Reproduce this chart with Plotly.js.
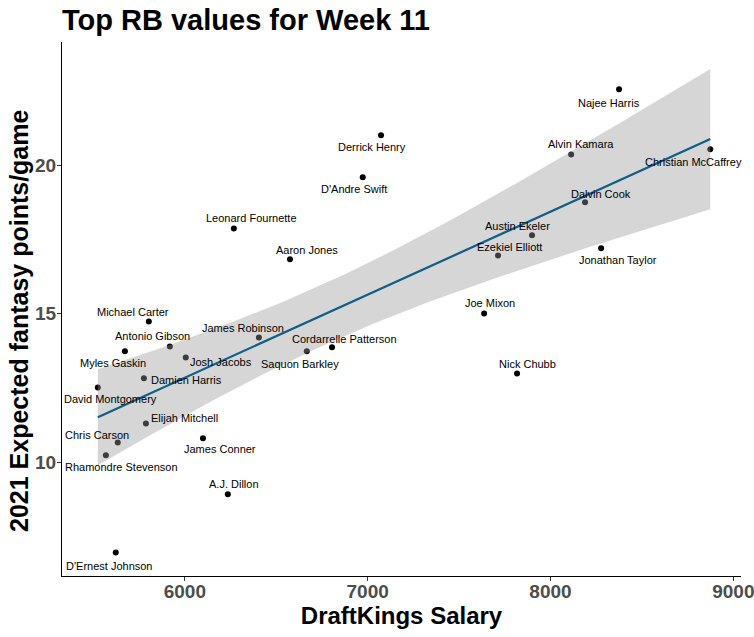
<!DOCTYPE html>
<html>
<head>
<meta charset="utf-8">
<script src="https://cdn.plot.ly/plotly-3.0.1.min.js"></script>
<style>html,body{margin:0;padding:0;background:#fff;}#chart{width:754px;height:637px;}</style>
</head>
<body>
<div id="chart"></div>
<script>
// ---- data ----
const players = ["Najee Harris","Derrick Henry","Alvin Kamara","Christian McCaffrey","D'Andre Swift","Dalvin Cook","Leonard Fournette","Austin Ekeler","Ezekiel Elliott","Aaron Jones","Jonathan Taylor","Joe Mixon","Michael Carter","James Robinson","Antonio Gibson","Cordarrelle Patterson","Myles Gaskin","Josh Jacobs","Saquon Barkley","Nick Chubb","Damien Harris","David Montgomery","Elijah Mitchell","Chris Carson","James Conner","Rhamondre Stevenson","A.J. Dillon","D'Ernest Johnson"];
const salary = [8375,7073,8113,8874,6973,8189,6268,7899,7713,6575,8277,7637,5803,6405,5918,6805,5672,6005,6667,7817,5776,5524,5787,5633,6099,5568,6235,5622];
const expPoints = [22.55,21.00,20.36,20.53,19.59,18.75,17.87,17.64,16.96,16.83,17.20,15.01,14.74,14.20,13.90,13.87,13.74,13.53,13.74,12.99,12.83,12.52,11.31,10.67,10.81,10.24,8.93,6.97];
const xTicks = [6000,7000,8000,9000];
const yTicks = [10,15,20];

// label placement (pixel offsets from each point; style, not data)
const labelDx = [-10,-9,10,-17,-9,16,18,-15,11,17,17,6,-16,-16,-17,12,-12,35,-7,10,43,13,39,-21,17,16,6,-7];
const labelDy = [14,12,-10,13,12,-8,-10,-9,-8,-9,12,-10,-9,-10,-10,-8,12,5,13,-10,2,12,-5,-8,11,12,-10,13];

// ---- linear model with 95% confidence band (like geom_smooth(method = "lm")) ----
const n = salary.length;
const xbar = salary.reduce((a,b)=>a+b,0)/n;
const ybar = expPoints.reduce((a,b)=>a+b,0)/n;
let sxx = 0, sxy = 0;
for (let i=0;i<n;i++){ sxx += (salary[i]-xbar)**2; sxy += (salary[i]-xbar)*(expPoints[i]-ybar); }
const slope = sxy/sxx, intercept = ybar - slope*xbar;
let sse = 0;
for (let i=0;i<n;i++){ sse += (expPoints[i] - (intercept + slope*salary[i]))**2; }
const s = Math.sqrt(sse/(n-2));
const tq = 2.0555; // t(0.975, df = 26)
const xmin = Math.min(...salary), xmax = Math.max(...salary);
const gx = [], gy = [], lo = [], hi = [];
for (let k=0;k<80;k++){
  const x = xmin + (xmax-xmin)*k/79;
  const yh = intercept + slope*x;
  const se = s*Math.sqrt(1/n + (x-xbar)**2/sxx);
  gx.push(x); gy.push(yh); lo.push(yh - tq*se); hi.push(yh + tq*se);
}

const FONT = 'Liberation Sans, Arial, sans-serif';

const traces = [
  {x: salary, y: expPoints, mode: 'markers', type: 'scatter',
   marker: {color: '#000000', size: 6}, hoverinfo: 'skip'},
  {x: gx.concat(gx.slice().reverse()), y: hi.concat(lo.slice().reverse()),
   type: 'scatter', mode: 'lines', fill: 'toself',
   fillcolor: 'rgba(153,153,153,0.4)', line: {width: 0}, hoverinfo: 'skip'},
  {x: gx, y: gy, type: 'scatter', mode: 'lines',
   line: {color: '#0F5E87', width: 2.2}, hoverinfo: 'skip'}
];

const annotations = players.map((p,i)=>({
  x: salary[i], y: expPoints[i], text: p, showarrow: false,
  xshift: labelDx[i], yshift: -labelDy[i],
  xanchor: 'center', yanchor: 'middle',
  font: {family: FONT, size: 11, color: '#000000'}
}));
// y-axis title (as annotation so it can sit where the reference puts it)
annotations.push({
  xref: 'paper', yref: 'paper', x: 0, y: 0.5, xshift: -43, yshift: -12,
  xanchor: 'center', yanchor: 'middle', textangle: -90, showarrow: false,
  text: '<b>2021 Expected fantasy points/game</b>',
  font: {family: FONT, size: 25, color: '#000000'}
});

const layout = {
  width: 754, height: 637,
  paper_bgcolor: '#ffffff', plot_bgcolor: '#ffffff',
  showlegend: false,
  margin: {l: 62, r: 13, t: 42, b: 61},
  title: {text: '<b>Top RB values for Week 11</b>', x: 0, xanchor: 'left',
          xref: 'paper', y: 1 - 20/637, yanchor: 'middle', yref: 'container',
          font: {family: FONT, size: 29, color: '#000000'}},
  xaxis: {range: [5328, 9042], tickvals: xTicks, ticktext: xTicks.map(v=>'<b>'+v+'</b>'),
          showgrid: false, zeroline: false, showline: true, linecolor: '#000000', linewidth: 1,
          ticks: 'outside', ticklen: 4, tickcolor: '#333333',
          ticklabeloverflow: 'allow', ticklabelstandoff: -6,
          tickfont: {family: FONT, size: 19, color: '#4D4D4D'},
          title: {text: '<b>DraftKings Salary</b>', standoff: 6,
                  font: {family: FONT, size: 24, color: '#000000'}}},
  yaxis: {range: [6.18, 24.14], tickvals: yTicks, ticktext: yTicks.map(v=>'<b>'+v+'</b>'),
          showgrid: false, zeroline: false, showline: true, linecolor: '#000000', linewidth: 1,
          ticks: 'outside', ticklen: 4, tickcolor: '#333333',
          ticklabeloverflow: 'allow', ticklabelstandoff: -3,
          tickfont: {family: FONT, size: 19, color: '#4D4D4D'}},
  annotations: annotations
};

Plotly.newPlot('chart', traces, layout, {displayModeBar: false, staticPlot: true});
</script>
</body>
</html>
